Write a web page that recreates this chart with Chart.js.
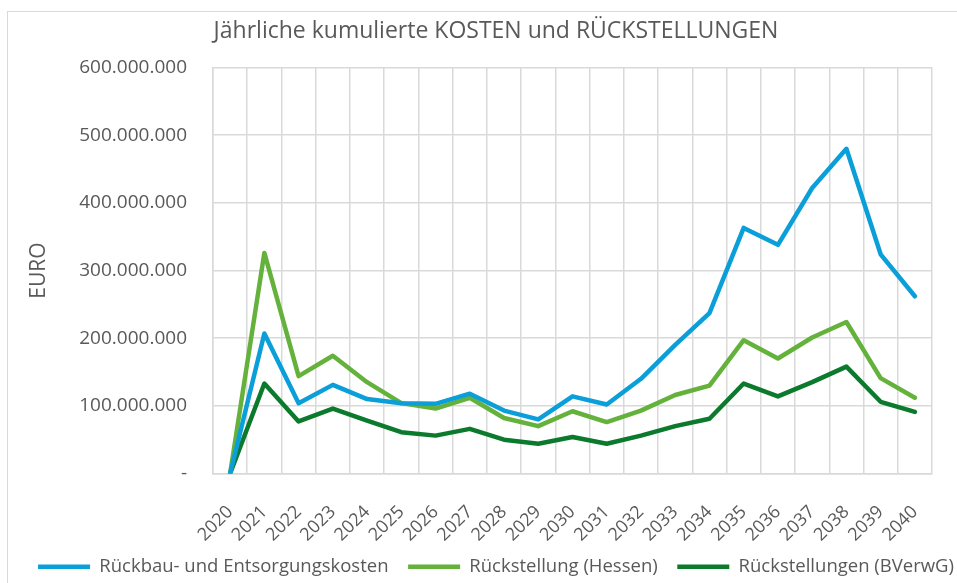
<!DOCTYPE html>
<html>
<head>
<meta charset="utf-8">
<script src="https://cdn.jsdelivr.net/npm/chart.js@4/dist/chart.umd.min.js"></script>
<style>
    html, body { margin: 0; padding: 0; background: #fff; overflow: hidden; }
    #frame {
        position: absolute; left: 7px; top: 11px;
        width: 1000px; height: 580px;
        border: 1px solid #d9d9d9;
    }
    #chart1 { display: block; }
</style>
</head>
<body>
<div id="frame"><canvas id="chart1" width="1000" height="574"></canvas></div>
<script>
    const years = ['2020', '2021', '2022', '2023', '2024', '2025', '2026', '2027', '2028', '2029', '2030',
        '2031', '2032', '2033', '2034', '2035', '2036', '2037', '2038', '2039', '2040']
    const rueckbauKosten = [0, 207000000, 104000000, 131000000, 110000000, 104000000, 103000000, 118000000,
        93000000, 80000000, 114000000, 102000000, 140000000, 190000000, 237000000, 363000000, 338000000,
        422000000, 480000000, 324000000, 262000000]
    const rueckstellungHessen = [0, 326000000, 144000000, 174000000, 135000000, 104000000, 96000000, 112000000,
        82000000, 70000000, 92000000, 76000000, 93000000, 116000000, 130000000, 197000000, 170000000,
        201000000, 224000000, 141000000, 112000000]
    const rueckstellungBVerwG = [0, 133000000, 77000000, 96000000, 78000000, 61000000, 56000000, 66000000,
        50000000, 44000000, 54000000, 44000000, 56000000, 70000000, 81000000, 133000000, 114000000,
        135000000, 158000000, 106000000, 91000000]
    const yTicks = [0, 100000000, 200000000, 300000000, 400000000, 500000000, 600000000]

    const textColor = '#595959'
    const gridColor = '#d9d9d9'

    function fmt(v) {
        if (v === 0) return '-'
        return String(v).replace(/\B(?=(\d{3})+(?!\d))/g, '.')
    }

    function lineSet(label, data, color) {
        return {
            label: label,
            data: data,
            borderColor: color,
            backgroundColor: color,
            borderWidth: 4.5,
            borderCapStyle: 'round',
            borderJoinStyle: 'round',
            pointRadius: 0,
            pointStyle: 'line',
            tension: 0,
            fill: false
        }
    }

    let ctx = document.getElementById('chart1').getContext('2d')
    let myChart = new Chart(ctx, {
        type: 'line',
        data: {
            labels: years,
            datasets: [
                lineSet('Rückbau- und Entsorgungskosten', rueckbauKosten, '#0a9fd8'),
                lineSet('Rückstellung (Hessen)', rueckstellungHessen, '#64b23b'),
                lineSet('Rückstellungen (BVerwG)', rueckstellungBVerwG, '#0b7a2c')
            ]
        },
        options: {
            responsive: false,
            animation: false,
            layout: { padding: { left: 0, right: 24, top: 0, bottom: 0 } },
            plugins: {
                title: {
                    display: true,
                    text: 'Jährliche kumulierte KOSTEN und RÜCKSTELLUNGEN',
                    color: textColor,
                    font: { family: 'Open Sans', size: 23, weight: 'normal' },
                    padding: { top: 6, bottom: 22 }
                },
                legend: {
                    position: 'bottom',
                    labels: {
                        color: textColor,
                        font: { family: 'Open Sans', size: 18.5 },
                        usePointStyle: true,
                        pointStyleWidth: 52,
                        boxHeight: 18,
                        padding: 10,
                        // a bit more room between the entries, like the original
                        generateLabels: function (chart) {
                            let items = Chart.defaults.plugins.legend.labels.generateLabels(chart)
                            items.forEach((it, i) => { if (i < items.length - 1) it.text = it.text + '  ' })
                            return items
                        }
                    }
                },
                tooltip: { enabled: false }
            },
            scales: {
                x: {
                    offset: true,
                    grid: { offset: true, color: gridColor, lineWidth: 1.5, drawTicks: false },
                    border: { color: gridColor, width: 1.5 },
                    ticks: {
                        color: textColor,
                        font: { family: 'Open Sans', size: 18 },
                        minRotation: 45,
                        maxRotation: 45,
                        padding: 28,
                        autoSkip: false
                    },
                    afterFit: function (scale) { scale.height = 74 }
                },
                y: {
                    min: 0,
                    max: 600000000,
                    afterBuildTicks: function (scale) { scale.ticks = yTicks.map(v => ({ value: v })) },
                    grid: { color: gridColor, lineWidth: 1.5, drawTicks: false },
                    border: { color: gridColor, width: 1.5 },
                    ticks: {
                        color: textColor,
                        font: { family: 'Open Sans', size: 19 },
                        padding: 26,
                        callback: function (v) { return fmt(v) }
                    },
                    title: {
                        display: true,
                        text: 'EURO',
                        color: textColor,
                        font: { family: 'Open Sans', size: 21 },
                        padding: { top: 18, bottom: 0 }
                    },
                    afterFit: function (scale) { scale.width = 205 }
                },
                // blank axis on the right, only keeps the plot area narrower
                yRight: {
                    position: 'right',
                    grid: { display: false },
                    border: { display: false },
                    ticks: { display: false },
                    afterFit: function (scale) { scale.width = 52 }
                }
            }
        }
    })
</script>
</body>
</html>
